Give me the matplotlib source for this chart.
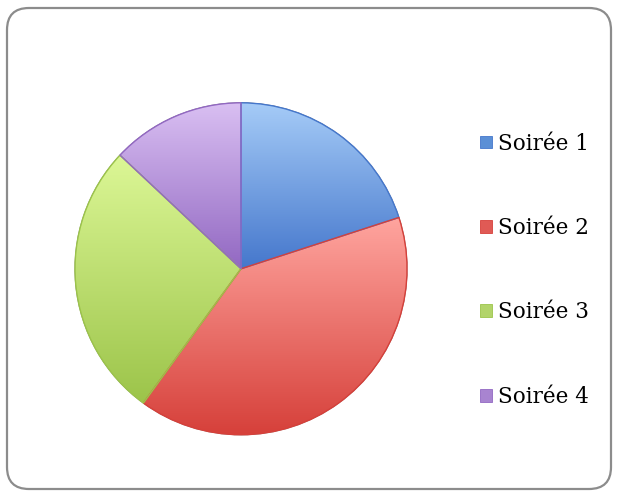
import numpy as np
import matplotlib
matplotlib.use("Agg")
import matplotlib.pyplot as plt
from matplotlib.patches import FancyBboxPatch, Patch, PathPatch
from matplotlib.colors import to_rgb

labels = ["Soirée 1", "Soirée 2", "Soirée 3", "Soirée 4"]
values = [20, 40, 27, 13]
light_colors = ["#a5cbf7", "#ffa59f", "#dcf796", "#d9bff2"]
dark_colors = ["#4577cc", "#d6403a", "#9cc44a", "#9268c2"]
mid_colors = ["#5b8fd6", "#e05a55", "#b2d46a", "#a884d0"]

fig = plt.figure(figsize=(6.18, 4.95), dpi=100)

# rounded frame
bg = fig.add_axes([0, 0, 1, 1])
bg.set_xlim(0, 618)
bg.set_ylim(495, 0)
bg.axis("off")
bg.add_patch(FancyBboxPatch((7, 8), 604, 481, boxstyle="round,pad=0,rounding_size=22",
                            facecolor="white", edgecolor="#8c8c8c", linewidth=1.6))

ax = fig.add_axes([0.116, 0.115, 0.548, 0.684])
wedges, _ = ax.pie(values, startangle=90, counterclock=False, radius=1,
                   colors=mid_colors,
                   wedgeprops=dict(edgecolor="#7a7a7a", linewidth=0.8))
ax.set_xlim(-1.02, 1.02)
ax.set_ylim(-1.02, 1.02)
ax.set_aspect("equal")
ax.axis("off")

# vertical gradient inside each wedge
for w, lc, dc in zip(wedges, light_colors, dark_colors):
    ys = w.get_path().vertices[:, 1]
    ymin, ymax = ys.min(), ys.max()
    t = np.linspace(0, 1, 256)[:, None]
    c1 = np.array(to_rgb(lc))
    c2 = np.array(to_rgb(dc))
    img = (c1 * (1 - t) + c2 * t)[:, None, :]
    im = ax.imshow(img, extent=(-1, 1, ymin, ymax), aspect="auto",
                   origin="upper", zorder=w.get_zorder() + 0.1)
    im.set_clip_path(w)
    ax.add_patch(PathPatch(w.get_path(), transform=w.get_transform(),
                           facecolor="none", edgecolor=dc, linewidth=1.0,
                           zorder=w.get_zorder() + 0.2))

handles = [Patch(facecolor=c, edgecolor=d, linewidth=0.6) for c, d in zip(mid_colors, dark_colors)]
fig.legend(handles, labels, loc="center left", bbox_to_anchor=(0.745, 0.454),
           frameon=False, prop={"family": "DejaVu Serif", "size": 15.5},
           handlelength=0.55, handleheight=0.55, handletextpad=0.3, labelspacing=2.9)

fig.savefig("out.png", dpi=100)
